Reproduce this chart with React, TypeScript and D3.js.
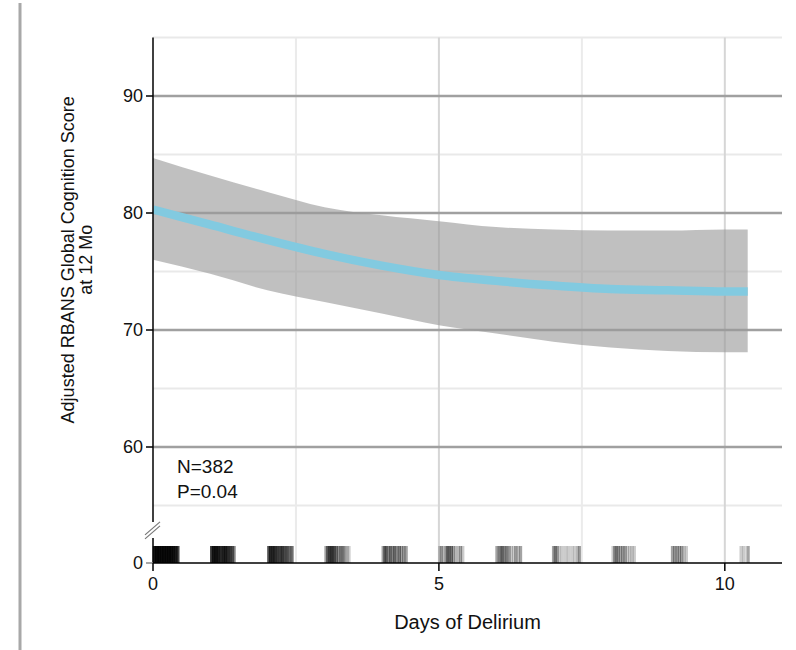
import React from 'react';
import * as d3 from 'd3';

// fitted curve
const days = [0, 1, 2, 3, 4, 5, 6, 7, 8, 9, 10, 10.4];
const fitScore = [80.3, 79.0, 77.7, 76.5, 75.5, 74.7, 74.2, 73.8, 73.5, 73.4, 73.3, 73.3];
const lowerCI = [76.0, 74.8, 73.4, 72.4, 71.4, 70.4, 69.7, 69.0, 68.5, 68.2, 68.1, 68.1];
const upperCI = [84.7, 83.2, 81.8, 80.5, 79.8, 79.3, 78.8, 78.6, 78.5, 78.5, 78.6, 78.6];

const yMajorTicks = [60, 70, 80, 90];
const yMinorTicks = [55, 65, 75, 85, 95];
const xTicks = [0, 5, 10];
const xMajorGrid = [5, 10];
const xMinorGrid = [2.5, 7.5];

// rug: [days of delirium (jittered), number of patients at that mark]
const rugMarks: [number, number][] = [
  [0.0, 9], [0.03, 9], [0.06, 9], [0.09, 9], [0.12, 9], [0.15, 9], [0.18, 9], [0.21, 9],
  [0.24, 9], [0.27, 9], [0.3, 8], [0.33, 8], [0.36, 6], [0.39, 5], [0.41, 4],
  [1.0, 6], [1.03, 7], [1.06, 7], [1.09, 7], [1.12, 6], [1.15, 5], [1.18, 4], [1.21, 6],
  [1.24, 6], [1.27, 5], [1.3, 4], [1.33, 4], [1.36, 3], [1.39, 3],
  [2.0, 5], [2.03, 5], [2.06, 5], [2.09, 5], [2.12, 4], [2.15, 4], [2.18, 3], [2.21, 4],
  [2.24, 4], [2.27, 3], [2.3, 3], [2.33, 3], [2.36, 2], [2.39, 2], [2.41, 2],
  [3.0, 2], [3.03, 3], [3.06, 4], [3.09, 4], [3.12, 4], [3.15, 3], [3.18, 3], [3.22, 2],
  [3.25, 2], [3.28, 2], [3.31, 2], [3.34, 1], [3.37, 1], [3.4, 1],
  [4.0, 2], [4.03, 3], [4.06, 3], [4.1, 2], [4.13, 3], [4.17, 2], [4.2, 3], [4.24, 2],
  [4.28, 3], [4.32, 2], [4.36, 2], [4.4, 2],
  [4.99, 1], [5.02, 2], [5.06, 1], [5.1, 2], [5.13, 3], [5.16, 2], [5.19, 3], [5.23, 2],
  [5.27, 1], [5.31, 1], [5.35, 2], [5.39, 1],
  [5.99, 2], [6.03, 2], [6.06, 2], [6.09, 3], [6.13, 2], [6.16, 2], [6.2, 2], [6.24, 1],
  [6.28, 1], [6.32, 2], [6.36, 1], [6.4, 2],
  [6.98, 2], [7.01, 2], [7.04, 2], [7.08, 1], [7.13, 1], [7.19, 1], [7.24, 1], [7.3, 1],
  [7.35, 1], [7.4, 1], [7.43, 2],
  [8.02, 1], [8.05, 2], [8.08, 2], [8.11, 2], [8.15, 2], [8.19, 2], [8.23, 2], [8.27, 1],
  [8.31, 1], [8.35, 1], [8.39, 1],
  [9.06, 2], [9.1, 2], [9.14, 2], [9.18, 2], [9.22, 2], [9.26, 1], [9.3, 1],
  [10.26, 1], [10.31, 1], [10.38, 2],
];

const W = 796;
const H = 650;
const font = '"Liberation Sans", Arial, sans-serif';

export default function App() {
  const x = d3.scaleLinear().domain([0, 11]).range([153, 782]);
  const y = d3.scaleLinear().domain([55, 95]).range([505.5, 37.5]);
  const rugY = d3.scaleLinear().domain([0, 1]).range([563, 546]);
  const yBreak = y(53.6);
  const xAxisY = rugY(0);

  const pts = days.map((d, i) => ({ d, fit: fitScore[i], lo: lowerCI[i], hi: upperCI[i] }));

  const band = d3.area<typeof pts[0]>()
    .x(p => x(p.d))
    .y0(p => y(p.lo))
    .y1(p => y(p.hi))
    .curve(d3.curveMonotoneX);

  const line = d3.line<typeof pts[0]>()
    .x(p => x(p.d))
    .y(p => y(p.fit))
    .curve(d3.curveMonotoneX);

  const x0 = x(0);
  const x1 = x(11);

  return (
    <svg width={W} height={H} style={{ position: 'absolute', left: 0, top: 0, background: '#fff' }}>
      {/* left page rule */}
      <rect x={18.5} y={3} width={3} height={H - 3} fill="#a8a8a8" />

      {/* grid */}
      {yMinorTicks.map(t => (
        <line key={'ym' + t} x1={x0} x2={x1} y1={y(t)} y2={y(t)} stroke="#e9e9e9" strokeWidth={2} />
      ))}
      {xMinorGrid.map(t => (
        <line key={'xm' + t} x1={x(t)} x2={x(t)} y1={y(95)} y2={xAxisY} stroke="#ebebeb" strokeWidth={2} />
      ))}
      {xMajorGrid.map(t => (
        <line key={'xM' + t} x1={x(t)} x2={x(t)} y1={y(95)} y2={xAxisY} stroke="#d6d6d6" strokeWidth={2} />
      ))}
      {yMajorTicks.map(t => (
        <line key={'yM' + t} x1={x0} x2={x1} y1={y(t)} y2={y(t)} stroke="#a0a0a0" strokeWidth={2.5} />
      ))}

      {/* confidence band and fitted line */}
      <path d={band(pts) ?? ''} fill="#9a9a9a" fillOpacity={0.62} />
      <path d={line(pts) ?? ''} fill="none" stroke="#82cae0" strokeWidth={8.5} />

      {/* rug */}
      {rugMarks.map(([d, n], i) => (
        <line key={'r' + i} x1={x(d) + 1.5} x2={x(d) + 1.5} y1={rugY(1)} y2={rugY(0)}
          stroke="#000" strokeWidth={3.4} strokeOpacity={1 - Math.pow(0.8, n)} />
      ))}

      {/* y axis (broken) */}
      <line x1={x0} x2={x0} y1={y(95)} y2={yBreak} stroke="#000" strokeWidth={1.5} />
      <line x1={x0} x2={x0} y1={yBreak + 16} y2={xAxisY} stroke="#000" strokeWidth={1.5} />
      <line x1={x0 - 8} x2={x0 + 7} y1={yBreak + 13} y2={yBreak} stroke="#777" strokeWidth={1.2} />
      <line x1={x0 - 8} x2={x0 + 7} y1={yBreak + 17} y2={yBreak + 4} stroke="#777" strokeWidth={1.2} />
      {yMajorTicks.map(t => (
        <g key={'yt' + t}>
          <line x1={x0 - 7} x2={x0} y1={y(t)} y2={y(t)} stroke="#000" strokeWidth={1.5} />
          <text x={x0 - 10} y={y(t)} dy="0.35em" textAnchor="end" fontFamily={font} fontSize={18} fill="#111">{t}</text>
        </g>
      ))}
      <line x1={x0 - 7} x2={x0} y1={xAxisY} y2={xAxisY} stroke="#888" strokeWidth={1.5} />
      <text x={x0 - 10} y={xAxisY} dy="0.35em" textAnchor="end" fontFamily={font} fontSize={18} fill="#111">0</text>

      {/* x axis */}
      <line x1={x0} x2={x1} y1={xAxisY} y2={xAxisY} stroke="#000" strokeWidth={1.5} />
      {xTicks.map(t => (
        <g key={'xt' + t}>
          <line x1={x(t)} x2={x(t)} y1={xAxisY} y2={xAxisY + 8} stroke="#000" strokeWidth={1.5} />
          <text x={x(t)} y={xAxisY + 27} textAnchor="middle" fontFamily={font} fontSize={18} fill="#111">{t}</text>
        </g>
      ))}

      {/* titles */}
      <text x={x(5.5)} y={629} textAnchor="middle" fontFamily={font} fontSize={20} fill="#111">Days of Delirium</text>
      <text transform={`translate(74,${y(76)}) rotate(-90)`} textAnchor="middle" fontFamily={font} fontSize={18} fill="#111">
        Adjusted RBANS Global Cognition Score
      </text>
      <text transform={`translate(92,${y(76)}) rotate(-90)`} textAnchor="middle" fontFamily={font} fontSize={18} fill="#111">
        at 12 Mo
      </text>

      {/* stats */}
      <text x={177} y={473} fontFamily={font} fontSize={19} fill="#111">N=382</text>
      <text x={177} y={498} fontFamily={font} fontSize={19} fill="#111">P=0.04</text>
    </svg>
  );
}
